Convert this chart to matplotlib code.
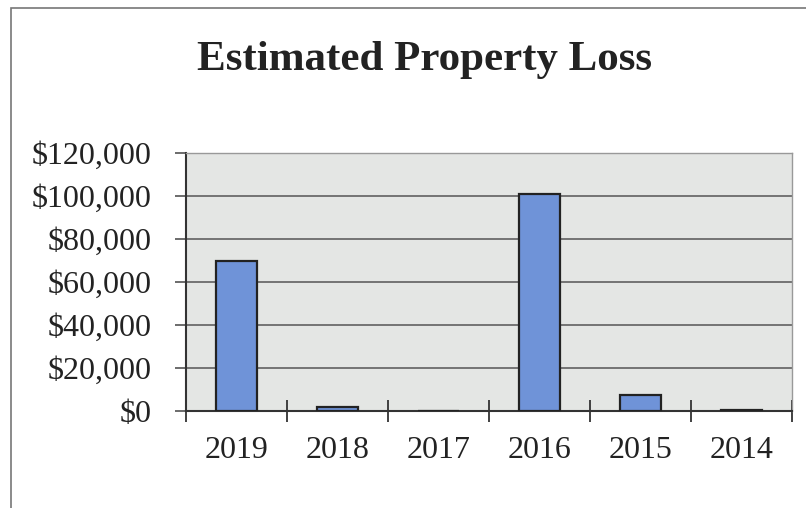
import matplotlib
matplotlib.use('agg')
import matplotlib.pyplot as plt
from matplotlib.ticker import FuncFormatter, FixedLocator
from matplotlib.patches import Rectangle

years = ['2019', '2018', '2017', '2016', '2015', '2014']
losses = [70000, 2000, 0, 101000, 7500, 500]

plt.rcParams['font.family'] = ['Liberation Serif', 'DejaVu Serif']

fig = plt.figure(figsize=(8.06, 5.08), dpi=100)
fig.patches.append(Rectangle((0.014, -0.1), 1.2, 1.085, transform=fig.transFigure,
                             fill=False, edgecolor='#777777', linewidth=1.2))

ax = fig.add_axes([186/806, 1-411/508, (792-186)/806, (411-153)/508])
ax.set_facecolor('#e4e6e4')
x = range(len(years))
ax.bar(x, losses, width=0.4, color='#6f93d8', edgecolor='#222222', linewidth=1.6, zorder=3)

ax.set_ylim(0, 120000)
ax.set_xlim(-0.5, len(years) - 0.5)
ax.set_yticks(range(0, 120001, 20000))
ax.yaxis.set_major_formatter(FuncFormatter(lambda v, p: '${:,.0f}'.format(v)))
ax.grid(axis='y', color='#555555', linewidth=1.1, zorder=1)

ax.set_xticks(list(x))
ax.set_xticklabels(years)
ax.xaxis.set_minor_locator(FixedLocator([i + 0.5 for i in range(-1, len(years))]))
ax.tick_params(axis='x', which='major', length=0, pad=18, labelsize=23, labelcolor='#222222')
ax.tick_params(axis='x', which='minor', length=16, direction='inout', width=1.3, color='#333333')
ax.tick_params(axis='y', length=8, width=1.1, color='#444444', labelsize=23, pad=17,
               labelcolor='#222222')

for s in ['left', 'bottom']:
    ax.spines[s].set_color('#333333')
    ax.spines[s].set_linewidth(1.5)
for s in ['top', 'right']:
    ax.spines[s].set_color('#999999')
    ax.spines[s].set_linewidth(1.0)

fig.text(0.527, 0.882, 'Estimated Property Loss', ha='center', va='center',
         fontsize=31, fontweight='bold', color='#222222')

plt.savefig('out.png', dpi=100)
plt.close()
